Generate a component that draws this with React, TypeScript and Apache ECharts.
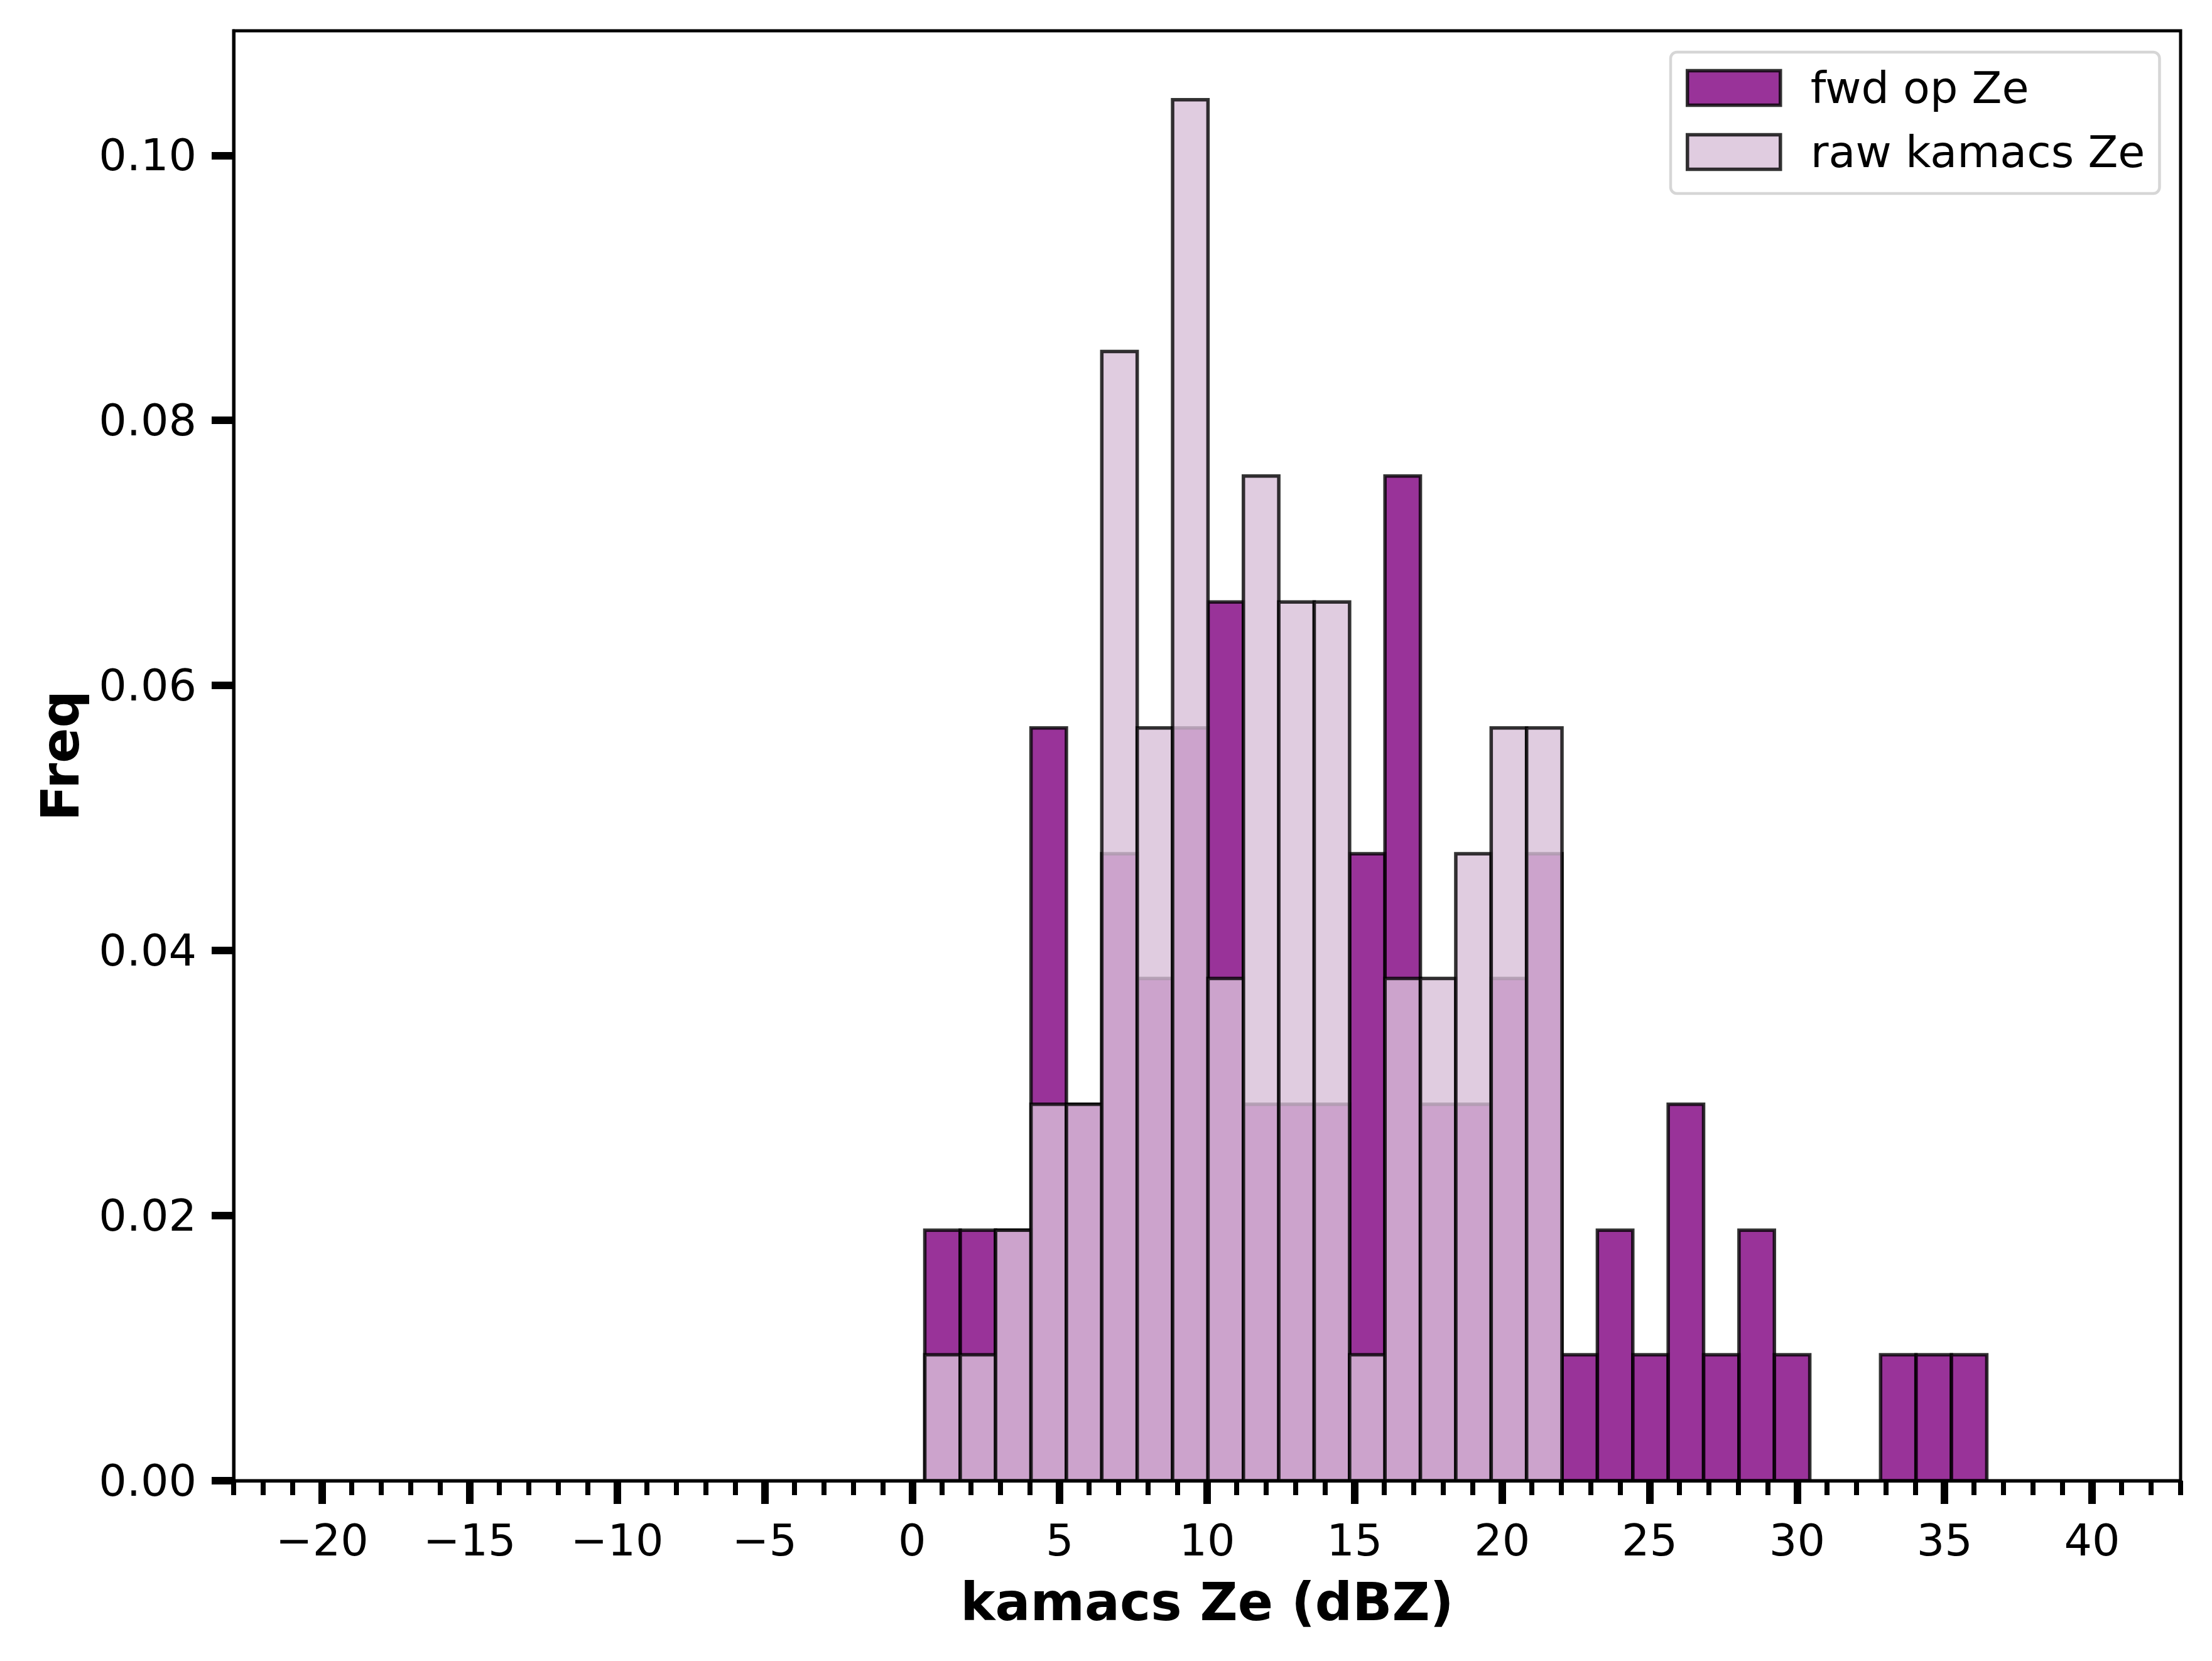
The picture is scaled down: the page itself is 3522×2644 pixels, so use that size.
import React, { useEffect, useRef } from "react";
import * as echarts from "echarts";

// ---- data ----
const binEdges = [
  0.43, 1.63, 2.83, 4.03, 5.23, 6.43, 7.63, 8.83, 10.03, 11.23, 12.43, 13.63,
  14.83, 16.03, 17.23, 18.43, 19.63, 20.83, 22.03, 23.23, 24.43, 25.63, 26.83,
  28.03, 29.23, 30.43, 31.63, 32.83, 34.03, 35.23, 36.43,
];
const fwdOpZe = [
  0.0189, 0.0189, 0.0189, 0.0568, 0.0284, 0.0473, 0.0379, 0.0568, 0.0663,
  0.0284, 0.0284, 0.0284, 0.0473, 0.0758, 0.0284, 0.0284, 0.0379, 0.0473,
  0.0095, 0.0189, 0.0095, 0.0284, 0.0095, 0.0189, 0.0095, 0, 0, 0.0095,
  0.0095, 0.0095,
];
const rawKamacsZe = [
  0.0095, 0.0095, 0.0189, 0.0284, 0.0284, 0.0852, 0.0568, 0.1042, 0.0379,
  0.0758, 0.0663, 0.0663, 0.0095, 0.0379, 0.0379, 0.0473, 0.0568, 0.0568, 0,
  0, 0, 0, 0, 0, 0, 0, 0, 0, 0, 0,
];
const xMajorTicks = [-20, -15, -10, -5, 0, 5, 10, 15, 20, 25, 30, 35, 40];
const yMajorTicks = [0, 0.02, 0.04, 0.06, 0.08, 0.1];
const xMin = -23;
const xMax = 43;
const yMax = 0.1094;
const seriesNames = ["fwd op Ze", "raw kamacs Ze"];

const FONT = "DejaVu Sans";
const FWD_FILL = "rgba(128,0,128,0.8)";
const RAW_FILL = "rgba(216,191,216,0.8)";
const EDGE = "rgba(0,0,0,0.8)";
const EDGE_W = 5.5;

const toData = (vals: number[]) =>
  vals.map((v, i) => [binEdges[i], binEdges[i + 1], v]);

const makeRender = (fill: string) => (params: any, api: any) => {
  const v = api.value(2);
  if (!v) return null;
  const a = api.coord([api.value(0), v]);
  const b = api.coord([api.value(1), 0]);
  return {
    type: "rect",
    shape: { x: a[0], y: a[1], width: b[0] - a[0], height: b[1] - a[1] },
    style: { fill, stroke: EDGE, lineWidth: EDGE_W },
  };
};

const fmtX = (v: number) => (v < 0 ? "\u2212" + Math.abs(v) : String(v));

export default function App() {
  const ref = useRef<HTMLDivElement>(null);
  useEffect(() => {
    if (!ref.current) return;
    const chart = echarts.init(ref.current, undefined, { renderer: "svg" });
    chart.setOption({
      animation: false,
      backgroundColor: "#fff",
      grid: {
        left: 372,
        right: 50,
        top: 49,
        bottom: 287,
        show: true,
        borderColor: "#000",
        borderWidth: 5,
        backgroundColor: "transparent",
      },
      legend: {
        orient: "vertical",
        left: 2660,
        top: 83,
        padding: [22, 23, 31, 24],
        itemGap: 32,
        itemWidth: 148,
        itemHeight: 55,
        backgroundColor: "#fff",
        borderColor: "#d6d6d6",
        borderWidth: 4.5,
        borderRadius: 10,
        textStyle: {
          fontSize: 70,
          fontFamily: FONT,
          color: "#000",
          padding: [0, 0, 0, 43],
          lineHeight: 55,
        },
        data: [
          {
            name: seriesNames[0],
            icon: "rect",
            itemStyle: { color: FWD_FILL, borderColor: EDGE, borderWidth: EDGE_W },
          },
          {
            name: seriesNames[1],
            icon: "rect",
            itemStyle: { color: RAW_FILL, borderColor: EDGE, borderWidth: EDGE_W },
          },
        ],
      },
      xAxis: [
        {
          type: "value",
          min: xMin,
          max: xMax,
          position: "bottom",
          z: 10,
          name: "kamacs Ze (dBZ)",
          nameLocation: "middle",
          nameGap: 152,
          nameTextStyle: {
            fontSize: 83,
            fontWeight: "bold",
            fontFamily: FONT,
            color: "#000",
          },
          axisLine: { show: true, onZero: false, lineStyle: { color: "#000", width: 5 } },
          axisTick: {
            show: true,
            length: 37,
            lineStyle: { color: "#000", width: 12 },
            customValues: xMajorTicks,
          },
          axisLabel: {
            show: true,
            customValues: xMajorTicks,
            formatter: fmtX,
            fontSize: 70,
            fontFamily: FONT,
            color: "#000",
            margin: 60,
          },
          splitLine: { show: false },
        },
        {
          type: "value",
          min: xMin,
          max: xMax,
          interval: 1,
          position: "bottom",
          z: 10,
          axisLine: { show: false, onZero: false },
          axisTick: { show: true, length: 23, lineStyle: { color: "#000", width: 8 } },
          axisLabel: { show: false },
          splitLine: { show: false },
        },
      ],
      yAxis: {
        type: "value",
        min: 0,
        max: yMax,
        z: 10,
        position: "left",
        name: "Freq",
        nameLocation: "middle",
        nameGap: 234,
        nameTextStyle: {
          fontSize: 83,
          fontWeight: "bold",
          fontFamily: FONT,
          color: "#000",
        },
        axisLine: { show: true, onZero: false, lineStyle: { color: "#000", width: 5 } },
        axisTick: {
          show: true,
          length: 35,
          lineStyle: { color: "#000", width: 12 },
          customValues: yMajorTicks,
        },
        axisLabel: {
          show: true,
          customValues: yMajorTicks,
          formatter: (v: number) => v.toFixed(2),
          fontSize: 70,
          fontFamily: FONT,
          color: "#000",
          margin: 59,
        },
        splitLine: { show: false },
      },
      series: [
        {
          name: seriesNames[0],
          type: "custom",
          xAxisIndex: 0,
          renderItem: makeRender(FWD_FILL),
          itemStyle: { color: FWD_FILL, borderColor: EDGE, borderWidth: EDGE_W },
          encode: { x: [0, 1], y: 2 },
          data: toData(fwdOpZe),
          clip: true,
        },
        {
          name: seriesNames[1],
          type: "custom",
          xAxisIndex: 0,
          renderItem: makeRender(RAW_FILL),
          itemStyle: { color: RAW_FILL, borderColor: EDGE, borderWidth: EDGE_W },
          encode: { x: [0, 1], y: 2 },
          data: toData(rawKamacsZe),
          clip: true,
        },
      ],
    });
    return () => chart.dispose();
  }, []);
  return (
    <div
      ref={ref}
      style={{ position: "absolute", left: 0, top: 0, width: 3522, height: 2644 }}
    />
  );
}
